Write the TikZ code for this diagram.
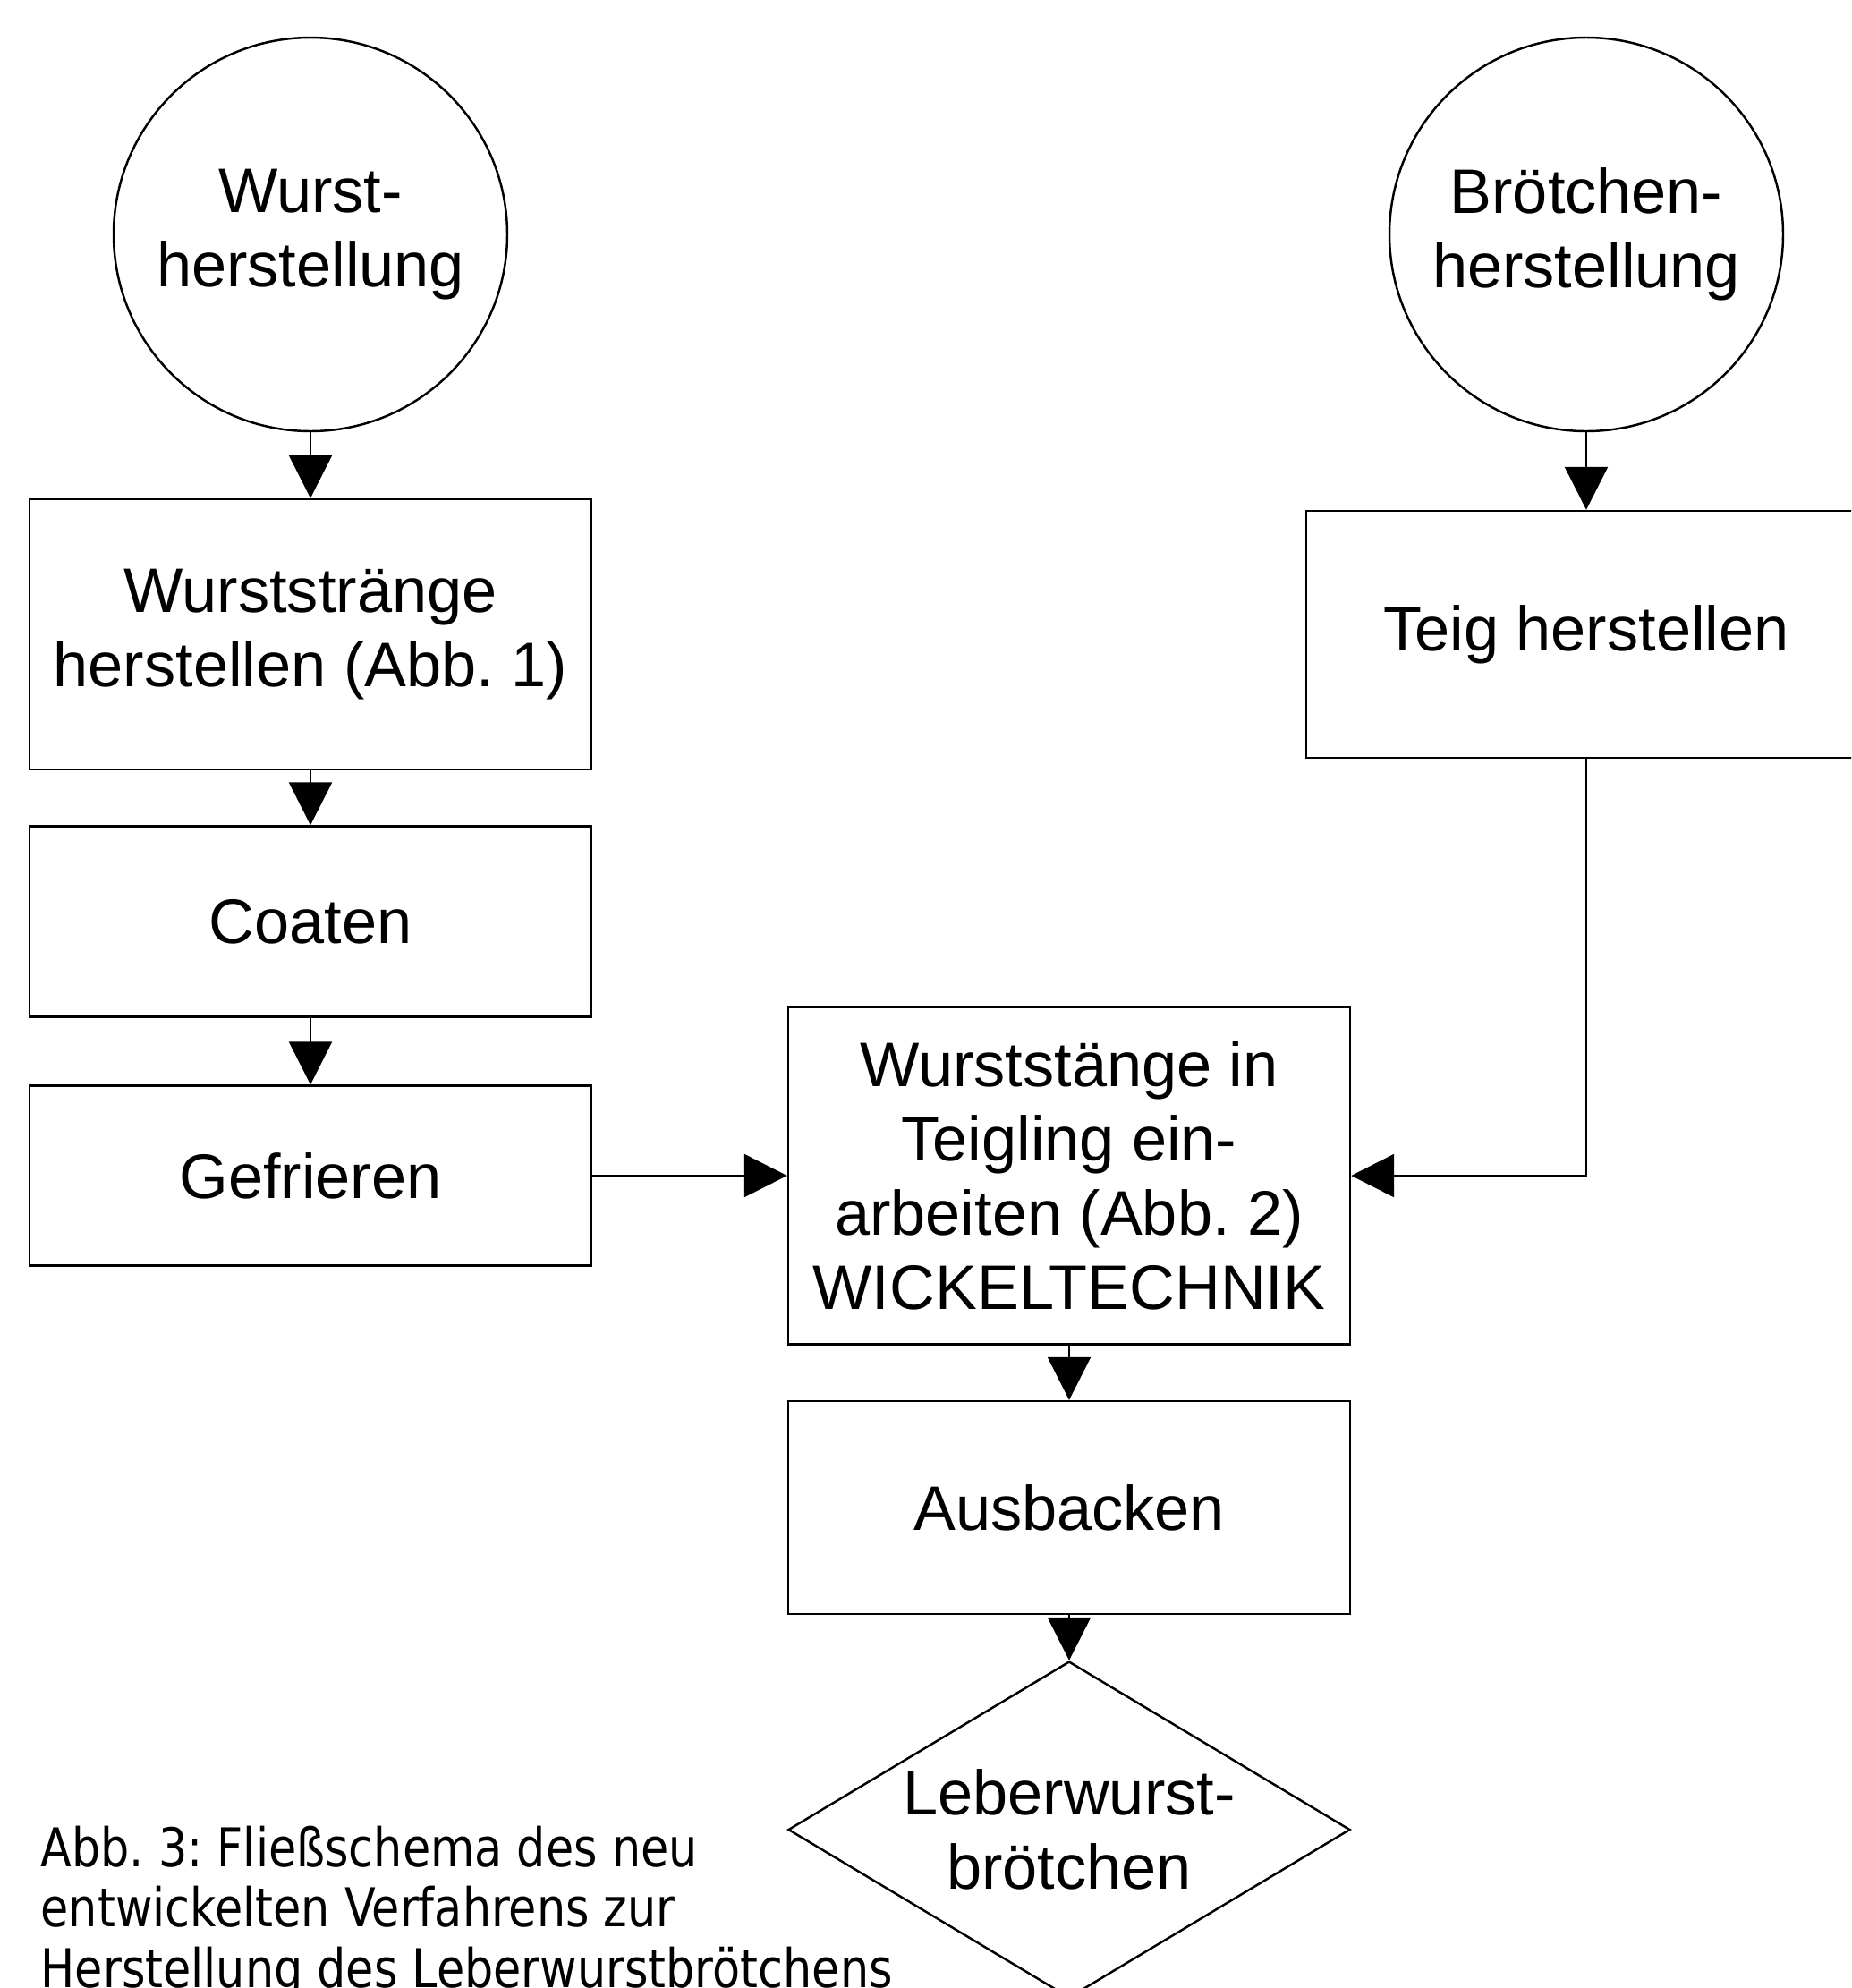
\documentclass[tikz,border=0pt]{standalone}
\usepackage{fontspec}
\setmainfont{Liberation Sans}
\newfontfamily\capfont[FakeStretch=0.85]{DejaVu Sans}
\usepackage{tikz}
\usetikzlibrary{shapes.geometric,arrows.meta}
\definecolor{ink}{HTML}{000000}
\frenchspacing
\tikzset{
  boxtext/.style={font=\fontsize{20pt}{23.6pt}\selectfont, align=center, text=ink},
  startc/.style={boxtext, circle, draw=ink, line width=0.7pt, minimum size=4.40cm, inner sep=0pt},
  proc/.style={boxtext, rectangle, draw=ink, line width=0.7pt, minimum width=6.28cm, inner sep=0pt},
  endd/.style={boxtext, diamond, draw=ink, line width=0.7pt, minimum width=6.28cm, minimum height=3.76cm, aspect=1.67, inner sep=0pt},
  flow/.style={draw=ink, line width=0.7pt, -{Triangle[length=0.48cm, width=0.48cm]}},
  caption/.style={font=\capfont\fontsize{17pt}{19.3pt}\selectfont, align=left, text=ink, inner sep=0pt},
}

\begin{document}
\begin{tikzpicture}
  \useasboundingbox (0,0) rectangle (20.69,-22.22);
  \clip (0,0) rectangle (20.69,-22.22);

  \node[startc] (wurst) at (3.47,-2.62) {Wurst-\\herstellung};
  \node[startc] (broetchen) at (17.73,-2.62) {Brötchen-\\herstellung};

  \node[proc, minimum height=3.02cm] (straenge) at (3.47,-7.09) {Wurststränge\\herstellen (Abb. 1)};
  \node[proc, minimum height=2.13cm] (coaten) at (3.47,-10.30) {Coaten};
  \node[proc, minimum height=2.01cm] (gefrieren) at (3.47,-13.14) {Gefrieren};
  \node[proc, minimum width=6.26cm, minimum height=2.76cm] (teig) at (17.73,-7.09) {Teig herstellen};

  \node[proc, minimum height=3.77cm] (wickel) at (11.95,-13.14) {Wurststänge in\\Teigling ein-\\arbeiten (Abb. 2)\\WICKELTECHNIK};
  \node[proc, minimum height=2.38cm] (ausbacken) at (11.95,-16.85) {Ausbacken};
  \node[endd] (leberwurst) at (11.95,-20.45) {Leberwurst-\\brötchen};

  \draw[flow] (wurst) -- (straenge);
  \draw[flow] (straenge) -- (coaten);
  \draw[flow] (coaten) -- (gefrieren);
  \draw[flow] (broetchen) -- (teig);
  \draw[flow] (gefrieren) -- (wickel);
  \draw[flow] (teig.south) |- (wickel.east);
  \draw[flow] (wickel) -- (ausbacken);
  \draw[flow] (ausbacken) -- (leberwurst);

  \node[caption, anchor=north west] (caption) at (0.45,-20.40) {Abb. 3: Fließschema des neu\\entwickelten Verfahrens zur\\Herstellung des Leberwurstbrötchens};
\end{tikzpicture}
\end{document}
